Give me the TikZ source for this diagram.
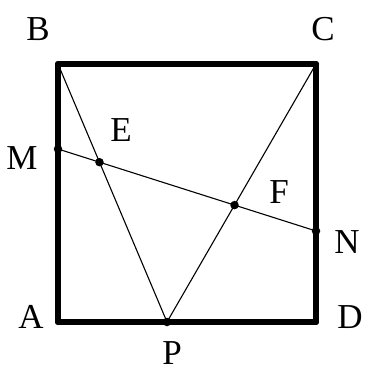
\documentclass[tikz,border=0pt]{standalone}
\usepackage{fontspec}
\setmainfont{Liberation Serif}
\tikzset{
  frame/.style={line width=5.2pt, line cap=round, line join=round},
  thin/.style={line width=1.1pt},
  dot/.style={circle, fill, inner sep=0pt, minimum size=8.5pt},
  cdot/.style={circle, fill, inner sep=0pt, minimum size=6pt},
  lbl/.style={font=\fontsize{35}{35}\selectfont, inner sep=0pt}
}
\begin{document}
\begin{tikzpicture}[x=1pt,y=-1pt]
\useasboundingbox (0,0) rectangle (369,374);
\coordinate (B) at (58,64);
\coordinate (C) at (316,64);
\coordinate (A) at (58,322);
\coordinate (D) at (316,322);
\coordinate (M) at (58,149);
\coordinate (N) at (316,231);
\coordinate (P) at (167,322);
\coordinate (E) at (intersection of B--P and M--N);
\coordinate (F) at (intersection of C--P and M--N);
\draw[thin] (B) -- (P) -- (C);
\draw[thin] (M) -- (N);
\draw[frame] (A) -- (B) -- (C) -- (D) -- cycle;
\foreach \p in {A,B,C,D} \node[cdot] at (\p) {};
\foreach \p in {M,N,P,E,F} \node[dot] at (\p) {};
\node[lbl] (lB) at (38,29) {B};
\node[lbl] (lC) at (323,29) {C};
\node[lbl] (lM) at (22,158) {M};
\node[lbl] (lE) at (121,130) {E};
\node[lbl] (lF) at (279,192) {F};
\node[lbl] (lN) at (347,242) {N};
\node[lbl] (lA) at (31,317) {A};
\node[lbl] (lD) at (350,317) {D};
\node[lbl] (lP) at (172,353) {P};
\end{tikzpicture}
\end{document}
